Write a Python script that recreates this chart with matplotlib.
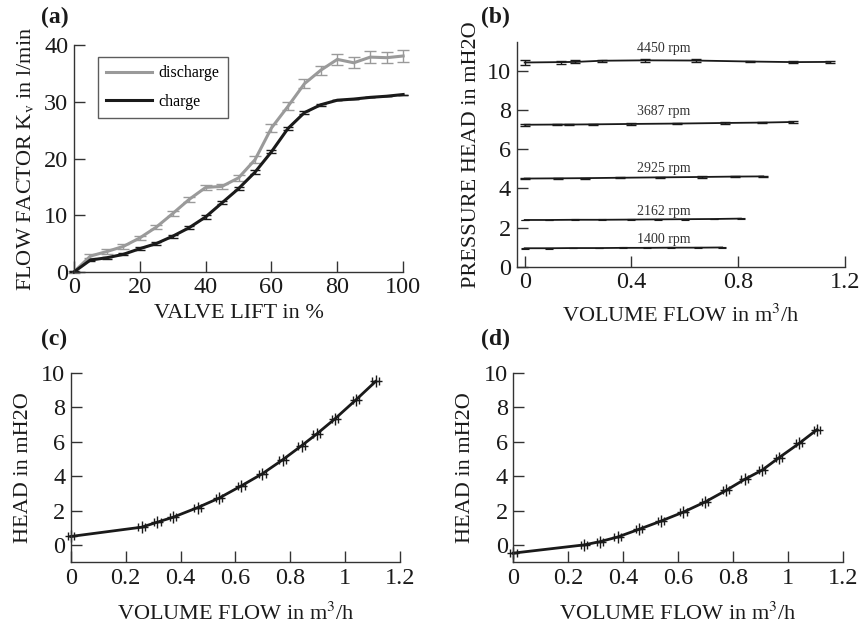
import matplotlib.pyplot as plt

plt.rcParams["font.family"] = ["Liberation Serif", "DejaVu Serif"]
plt.rcParams["mathtext.fontset"] = "stix"

# (a) flow factor vs valve lift
lift = [0, 5, 10, 15, 20, 25, 30, 35, 40, 45, 50, 55, 60, 65, 70, 75, 80, 85, 90, 95, 100]
kv_discharge = [0, 2.8, 3.6, 4.5, 6.0, 7.9, 10.3, 12.8, 14.9, 15.1, 16.6, 19.8, 25.4,
                29.2, 33.2, 35.6, 37.5, 36.9, 37.9, 37.8, 38.1]
kv_discharge_err = [0.2, 0.4, 0.4, 0.4, 0.4, 0.4, 0.4, 0.4, 0.4, 0.4, 0.5, 0.6, 0.7,
                    0.7, 0.8, 0.8, 1.0, 1.0, 1.0, 1.0, 1.0]
kv_charge = [0, 2.1, 2.5, 3.1, 4.1, 5.0, 6.3, 7.8, 9.7, 12.2, 14.7, 17.6, 21.2,
             25.3, 28.1, 29.5, 30.3, 30.5, 30.8, 31.0, 31.3]
kv_charge_err = [0.1, 0.2, 0.2, 0.2, 0.3, 0.3, 0.3, 0.3, 0.3, 0.3, 0.3, 0.3, 0.3,
                 0.3, 0.3, 0.2, 0.0, 0.0, 0.0, 0.0, 0.0]

# (b) pressure head at constant speed
speeds = ["4450 rpm", "3687 rpm", "2925 rpm", "2162 rpm", "1400 rpm"]
flow_4450 = [0, 0.135, 0.19, 0.29, 0.45, 0.64, 0.845, 1.005, 1.145]
head_4450 = [10.41, 10.43, 10.44, 10.50, 10.52, 10.51, 10.46, 10.43, 10.44]
err_4450 = [0.15, 0.08, 0.08, 0.06, 0.06, 0.06, 0.05, 0.05, 0.05]
flow_3687 = [0, 0.122, 0.165, 0.256, 0.397, 0.571, 0.75, 0.888, 1.006]
head_3687 = [7.24, 7.25, 7.25, 7.26, 7.28, 7.30, 7.33, 7.35, 7.38]
err_3687 = [0.05, 0.04, 0.04, 0.04, 0.04, 0.04, 0.03, 0.03, 0.03]
flow_2925 = [0, 0.125, 0.225, 0.356, 0.506, 0.663, 0.787, 0.894]
head_2925 = [4.50, 4.51, 4.52, 4.54, 4.56, 4.58, 4.60, 4.61]
flow_2162 = [0, 0.09, 0.19, 0.29, 0.40, 0.50, 0.60, 0.71, 0.81]
head_2162 = [2.39, 2.39, 2.40, 2.40, 2.41, 2.42, 2.43, 2.44, 2.46]
flow_1400 = [0, 0.09, 0.18, 0.28, 0.37, 0.46, 0.55, 0.65, 0.74]
head_1400 = [0.95, 0.95, 0.96, 0.96, 0.97, 0.97, 0.98, 0.98, 0.99]
label_y = [11.1, 7.9, 5.0, 2.8, 1.4]

# (c) and (d) head vs volume flow
flow_c = [0, 0.258, 0.315, 0.373, 0.462, 0.540, 0.622, 0.698, 0.772, 0.841, 0.896, 0.963, 1.040, 1.111]
head_c = [0.49, 1.03, 1.32, 1.61, 2.17, 2.72, 3.44, 4.14, 4.95, 5.77, 6.45, 7.34, 8.45, 9.51]
flow_d = [0, 0.258, 0.316, 0.380, 0.458, 0.538, 0.619, 0.698, 0.774, 0.841, 0.905, 0.966, 1.039, 1.105]
head_d = [-0.48, 0.0, 0.19, 0.46, 0.91, 1.39, 1.91, 2.50, 3.17, 3.81, 4.35, 5.07, 5.90, 6.71]

GRAY = "#9a9a9a"
INK = "#1a1a1a"
SPINE = "#333333"
TICK_FS = 17.5
LABEL_FS = 16


def style(ax):
    for s in ["top", "right"]:
        ax.spines[s].set_visible(False)
    for s in ["left", "bottom"]:
        ax.spines[s].set_color(SPINE)
        ax.spines[s].set_linewidth(1.0)
    ax.tick_params(direction="in", length=8, width=1.0, color=SPINE,
                   labelsize=TICK_FS, labelcolor=INK, pad=4)


fig = plt.figure(figsize=(8.64, 6.28), dpi=100)

# (a)
ax = fig.add_axes([0.0856, 0.567, 0.381, 0.361])
ax.errorbar(lift, kv_discharge, yerr=kv_discharge_err, color=GRAY, lw=2.2,
            capsize=4.5, elinewidth=1.0, capthick=1.0, label="discharge", clip_on=False)
ax.errorbar(lift, kv_charge, yerr=kv_charge_err, color=INK, lw=2.2,
            capsize=3.5, elinewidth=1.0, capthick=1.0, label="charge", clip_on=False)
ax.set_xlim(0, 100)
ax.set_ylim(0, 40)
ax.set_xticks([0, 20, 40, 60, 80, 100])
ax.set_yticks([0, 10, 20, 30, 40])
style(ax)
ax.set_xlabel("VALVE LIFT in %", fontsize=LABEL_FS, color=INK, labelpad=4)
ax.set_ylabel("FLOW FACTOR K$_\\mathrm{v}$ in l/min", fontsize=LABEL_FS, color=INK, labelpad=6)
h, l = ax.get_legend_handles_labels()
h = [x[0] for x in h]
leg = ax.legend(h, l, loc="upper left", bbox_to_anchor=(0.073, 0.947), fontsize=11.5,
                fancybox=False, handlelength=2.9, handletextpad=0.4, borderpad=0.5,
                labelspacing=0.8, borderaxespad=0)
leg.get_frame().set_edgecolor(SPINE)
leg.get_frame().set_linewidth(1.0)

# (b)
ax = fig.add_axes([0.598, 0.575, 0.380, 0.358])
ax.errorbar(flow_4450, head_4450, yerr=err_4450, color=INK, lw=1.3, capsize=3.5,
            elinewidth=1.0, capthick=1.0, clip_on=False)
ax.errorbar(flow_3687, head_3687, yerr=err_3687, color=INK, lw=1.3, capsize=3.5,
            elinewidth=1.0, capthick=1.0, clip_on=False)
ax.errorbar(flow_2925, head_2925, yerr=[0.03] * len(flow_2925), color=INK, lw=1.3,
            capsize=3.5, elinewidth=1.0, capthick=1.0, clip_on=False)
ax.errorbar(flow_2162, head_2162, yerr=[0.02] * len(flow_2162), color=INK, lw=1.3,
            capsize=3.0, elinewidth=0.8, capthick=0.8, clip_on=False)
ax.errorbar(flow_1400, head_1400, yerr=[0.02] * len(flow_1400), color=INK, lw=1.3,
            capsize=3.0, elinewidth=0.8, capthick=0.8, clip_on=False)
for name, y in zip(speeds, label_y):
    ax.text(0.52, y, name, fontsize=10, color="#333333", ha="center", va="center")
ax.set_xlim(-0.03, 1.2)
ax.set_ylim(0, 11.45)
ax.set_xticks([0, 0.4, 0.8, 1.2])
ax.set_xticklabels(["0", "0.4", "0.8", "1.2"])
ax.set_yticks([0, 2, 4, 6, 8, 10])
style(ax)
ax.set_xlabel("VOLUME FLOW in m$^3$/h", fontsize=LABEL_FS, color=INK, labelpad=8)
ax.set_ylabel("PRESSURE HEAD in mH2O", fontsize=LABEL_FS, color=INK, labelpad=4)

# (c) and (d)
for pos, fx, hy in [([0.082, 0.105, 0.381, 0.301], flow_c, head_c),
                    ([0.594, 0.105, 0.382, 0.301], flow_d, head_d)]:
    ax = fig.add_axes(pos)
    ax.errorbar(fx, hy, xerr=0.012, color=INK, lw=2.0, marker="+", ms=8, mew=1.0,
                capsize=3, elinewidth=1.0, capthick=1.0, clip_on=False)
    ax.set_xlim(0, 1.2)
    ax.set_ylim(-1, 10)
    ax.set_xticks([0, 0.2, 0.4, 0.6, 0.8, 1.0, 1.2])
    ax.set_xticklabels(["0", "0.2", "0.4", "0.6", "0.8", "1", "1.2"])
    ax.set_yticks([0, 2, 4, 6, 8, 10])
    style(ax)
    ax.set_xlabel("VOLUME FLOW in m$^3$/h", fontsize=LABEL_FS, color=INK, labelpad=10)
    ax.set_ylabel("HEAD in mH2O", fontsize=LABEL_FS, color=INK, labelpad=6)

for txt, x, y in [("(a)", 0.048, 0.972), ("(b)", 0.557, 0.972),
                  ("(c)", 0.048, 0.460), ("(d)", 0.557, 0.460)]:
    fig.text(x, y, txt, fontsize=17, fontweight="bold", color=INK, va="center")

fig.savefig("out.png", dpi=100)
